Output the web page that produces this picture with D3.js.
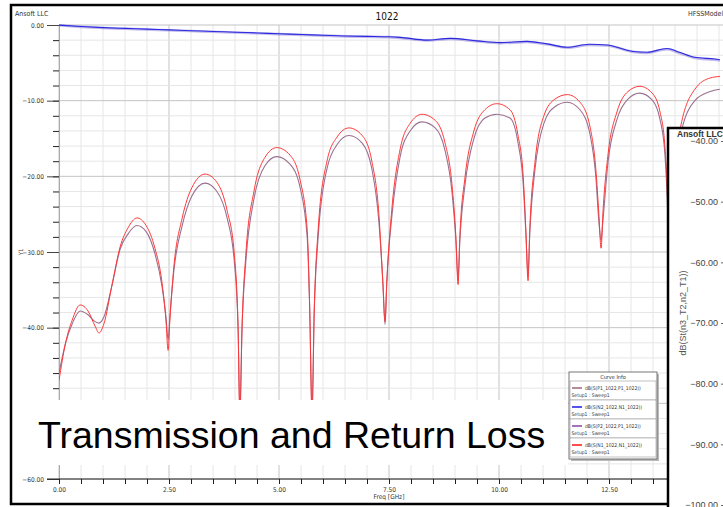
<!DOCTYPE html>
<html>
<head>
<meta charset="utf-8">
<script src="https://cdn.jsdelivr.net/npm/d3@7"></script>
<style>
  body { margin: 0; background: #fff; }
  svg { display: block; font-family: "Liberation Sans", Arial, sans-serif; }
</style>
</head>
<body>
<div id="chart"></div>
<script>
// Return loss curves, freq in GHz
const rlFreq = [0, 0.15, 0.3, 0.48, 0.66, 0.82, 0.91, 1.02, 1.2, 1.39, 1.57, 1.77, 1.98, 2.18, 2.34, 2.43, 2.48, 2.52, 2.61, 2.8,
  3.02, 3.32, 3.59, 3.82, 3.98, 4.07, 4.11, 4.16, 4.25, 4.43, 4.68, 4.95, 5.25, 5.48, 5.64, 5.7, 5.75, 5.8, 5.89, 6.09,
  6.32, 6.59, 6.89, 7.11, 7.27, 7.36, 7.41, 7.45, 7.57, 7.75, 7.98, 8.25, 8.55, 8.77, 8.93, 9.02, 9.07, 9.11, 9.23, 9.43,
  9.68, 9.95, 10.25, 10.43, 10.55, 10.61, 10.66, 10.7, 10.82, 11.02, 11.27, 11.55, 11.84, 12.07, 12.2, 12.27, 12.32, 12.36, 12.48, 12.68,
  12.93, 13.2, 13.48, 13.66, 13.77, 13.84, 13.89, 13.95, 14.11, 14.45, 14.8, 15.02];
const s11N = [-47, -42, -39, -37, -37.8, -39.8, -40.7, -39.5, -34.5, -29.3, -26.8, -25.5, -26.5, -29.5, -34, -39, -43, -39, -32, -25.5,
  -21.5, -19.7, -20.8, -24.5, -30, -40, -52, -40, -30, -22, -17.5, -16.2, -17.2, -20.5, -27, -38, -52, -38, -27, -18,
  -14.8, -13.6, -14.6, -18, -25, -34, -39.2, -34, -24, -16.5, -13, -11.8, -12.6, -15.5, -21, -28, -34.3, -28, -20, -14,
  -11.2, -10.4, -11.2, -14.5, -20, -27, -33.8, -27, -18, -12, -9.8, -9.2, -10.2, -13.5, -19, -25, -29.5, -25, -17, -11.5,
  -8.8, -8.1, -9.0, -11.5, -16, -25, -40, -25, -14, -8.5, -7, -6.8];
const s11P = [-46, -42, -39.5, -37.8, -38.3, -39.2, -39.4, -38.6, -34.5, -29.6, -27.6, -26.5, -27.3, -30.2, -34.5, -38.5, -41.6, -38.5, -32.5, -26.5,
  -22.6, -20.9, -22, -25.5, -31, -40, -51, -40, -31, -23, -18.6, -17.4, -18.4, -21.5, -28, -38, -51, -38, -28, -19,
  -15.8, -14.6, -15.6, -19, -26, -34, -39.6, -34, -25, -17.5, -14, -12.8, -13.6, -16.5, -22, -28.5, -33.5, -28.5, -21, -15,
  -12.3, -11.8, -12.3, -15.5, -21, -27.5, -33, -27.5, -19, -13, -10.8, -10.2, -11.2, -14.5, -20, -26, -28.5, -26, -18, -12.5,
  -9.8, -9.0, -9.9, -12.5, -17, -26, -40, -26, -15, -10, -8.8, -8.5];

// Transmission curves
const tFreq = [0, 0.5, 1, 1.5, 2, 2.5, 3, 3.5, 4, 4.5, 5, 5.5, 6, 6.5, 7, 7.5, 7.75, 8.36, 8.89, 9.5,
  10.02, 10.64, 11.09, 11.55, 12.05, 12.45, 13.05, 13.36, 13.82, 14.1, 14.45, 14.9, 15.02];
const s21N = [-0.02, -0.2, -0.35, -0.45, -0.55, -0.65, -0.75, -0.85, -0.95, -1.05, -1.15, -1.25, -1.35, -1.45, -1.5, -1.55, -1.63, -2.0, -1.77, -2.1,
  -2.33, -2.16, -2.5, -2.95, -2.55, -2.64, -3.5, -3.6, -3.1, -3.6, -4.27, -4.5, -4.6];
const s21P = [-0.05, -0.25, -0.4, -0.5, -0.6, -0.7, -0.8, -0.9, -1.0, -1.1, -1.2, -1.3, -1.4, -1.5, -1.55, -1.6, -1.7, -2.05, -1.85, -2.15,
  -2.4, -2.25, -2.55, -3.0, -2.65, -2.7, -3.55, -3.7, -3.2, -3.7, -4.35, -4.6, -4.7];

const xMajorTicks = [0, 2.5, 5, 7.5, 10, 12.5];
const yMajorTicks = [0, -10, -20, -30, -40, -50, -60];
const y2Ticks = [-40, -50, -60, -70, -80, -90, -100];

const legendItems = [
  {name: "dB(S(P1_1022,P1_1022))", color: "#a07088"},
  {name: "dB(S(N2_1022,N1_1022))", color: "#2a2ae8"},
  {name: "dB(S(P2_1022,P1_1022))", color: "#9050a8"},
  {name: "dB(S(N1_1022,N1_1022))", color: "#ff2020"}
];

const W = 723, H = 507;
const svg = d3.select("#chart").append("svg").attr("width", W).attr("height", H);

const x = d3.scaleLinear().domain([0, 15]).range([59, 719]);
const y = d3.scaleLinear().domain([0, -60]).range([25, 479]);

// grid
const grid = svg.append("g");
grid.selectAll(".vg").data(d3.range(0, 15.01, 0.5)).enter().append("line")
  .attr("x1", d => x(d)).attr("x2", d => x(d))
  .attr("y1", 25).attr("y2", 479)
  .attr("stroke", d => xMajorTicks.includes(d) ? "#c4c4c4" : "#e6e6e6").attr("stroke-width", 1);
grid.selectAll(".hg").data(d3.range(0, -60.01, -2)).enter().append("line")
  .attr("x1", 59).attr("x2", 723)
  .attr("y1", d => y(d)).attr("y2", d => y(d))
  .attr("stroke", d => d % 10 === 0 ? "#c4c4c4" : "#e6e6e6").attr("stroke-width", 1);

// left axis
const yAxisMinor = d3.axisLeft(y).tickValues(d3.range(0, -60.01, -2)).tickSize(6).tickFormat("");
svg.append("g").attr("transform", "translate(59,0)").call(yAxisMinor)
  .call(g => g.select(".domain").attr("stroke", "#aaa"))
  .call(g => g.selectAll(".tick line").attr("stroke", "#222"));
const yAxis = d3.axisLeft(y).tickValues(yMajorTicks).tickSize(12).tickPadding(3).tickFormat(d3.format(".2f"));
svg.append("g").attr("transform", "translate(59,0)").call(yAxis)
  .call(g => g.select(".domain").remove())
  .call(g => g.selectAll(".tick line").attr("stroke", "#444"))
  .call(g => g.selectAll("text").attr("font-size", 6.5).attr("fill", "#333").attr("font-family", "DejaVu Sans Condensed, sans-serif"));

// bottom axis
const xAxis = d3.axisBottom(x).tickValues(d3.range(0, 15.01, 0.5)).tickSize(5).tickFormat("");
svg.append("g").attr("transform", "translate(0,479)").call(xAxis)
  .call(g => g.select(".domain").attr("stroke", "#222").attr("d", "M47,0H723"))
  .call(g => g.selectAll(".tick line").attr("stroke", "#222"));
const xAxisLab = d3.axisBottom(x).tickValues(xMajorTicks).tickSize(0).tickPadding(8).tickFormat(d3.format(".2f"));
svg.append("g").attr("transform", "translate(0,479)").call(xAxisLab)
  .call(g => g.select(".domain").remove())
  .call(g => g.selectAll("text").attr("font-size", 6.5).attr("fill", "#333").attr("font-family", "DejaVu Sans Condensed, sans-serif"));

svg.append("text").attr("x", 389).attr("y", 499).attr("text-anchor", "middle")
  .attr("font-size", 6.5).attr("fill", "#333").attr("font-family", "DejaVu Sans Condensed, sans-serif").text("Freq [GHz]");
svg.append("text").attr("transform", "translate(23,252) rotate(-90)").attr("text-anchor", "middle")
  .attr("font-size", 6).attr("fill", "#444").attr("font-family", "DejaVu Sans Condensed, sans-serif").text("Y1");

// header
svg.append("text").attr("x", 15).attr("y", 16).attr("font-size", 7).attr("fill", "#333")
  .attr("font-family", "DejaVu Sans Condensed, sans-serif").text("Ansoft LLC");
svg.append("text").attr("x", 387).attr("y", 20).attr("text-anchor", "middle").attr("font-size", 10).attr("fill", "#111")
  .attr("font-family", "DejaVu Sans Condensed, sans-serif").text("1022");
svg.append("text").attr("x", 688).attr("y", 16).attr("font-size", 7).attr("fill", "#333")
  .attr("font-family", "DejaVu Sans Condensed, sans-serif").text("HFSSModel1");

// curves
svg.append("clipPath").attr("id", "plotClip").append("rect")
  .attr("x", 59).attr("y", 24).attr("width", 664).attr("height", 455);
const curves = svg.append("g").attr("clip-path", "url(#plotClip)");
const line = (fs, vs) => d3.line().x((d, i) => x(fs[i])).y(d => y(d)).curve(d3.curveMonotoneX)(vs);

curves.append("path").attr("d", line(tFreq, s21P)).attr("fill", "none")
  .attr("stroke", "#9080d8").attr("stroke-width", 2.6).attr("stroke-opacity", 0.55);
curves.append("path").attr("d", line(tFreq, s21N)).attr("fill", "none")
  .attr("stroke", "#2a2ae0").attr("stroke-width", 1.1);
curves.append("path").attr("d", line(rlFreq, s11P)).attr("fill", "none")
  .attr("stroke", "#9a7090").attr("stroke-width", 1.1);
curves.append("path").attr("d", line(rlFreq, s11N)).attr("fill", "none")
  .attr("stroke", "#ff3838").attr("stroke-width", 1);

// big caption with white backing
svg.append("rect").attr("x", 14).attr("y", 400).attr("width", 554).attr("height", 65).attr("fill", "#fff");
svg.append("text").attr("x", 38).attr("y", 448).attr("font-size", 37.5).attr("fill", "#000")
  .attr("font-family", "Liberation Sans, Arial, sans-serif").text("Transmission and Return Loss");

// legend
const lg = svg.append("g").attr("transform", "translate(569,372)");
lg.append("rect").attr("x", 2).attr("y", 2).attr("width", 88).attr("height", 87).attr("fill", "#bbb");
lg.append("rect").attr("width", 88).attr("height", 87).attr("fill", "#fff").attr("stroke", "#555").attr("stroke-width", 0.8);
lg.append("text").attr("x", 44).attr("y", 6.5).attr("text-anchor", "middle").attr("font-size", 5.5).attr("fill", "#333")
  .attr("font-family", "DejaVu Sans Condensed, sans-serif").text("Curve Info");
const item = lg.selectAll(".it").data(legendItems).enter().append("g")
  .attr("transform", (d, i) => `translate(0,${9 + i * 19})`);
item.append("rect").attr("x", 1).attr("y", 0).attr("width", 86).attr("height", 19)
  .attr("fill", "#fff").attr("stroke", "#999").attr("stroke-width", 0.6);
item.append("line").attr("x1", 3).attr("x2", 13).attr("y1", 7).attr("y2", 7)
  .attr("stroke", d => d.color).attr("stroke-width", 1.6);
item.append("text").attr("x", 16).attr("y", 9).attr("font-size", 5).attr("fill", "#333")
  .attr("font-family", "DejaVu Sans Condensed, sans-serif").text(d => d.name);
item.append("text").attr("x", 2.5).attr("y", 16).attr("font-size", 5).attr("fill", "#333")
  .attr("font-family", "DejaVu Sans Condensed, sans-serif").text("Setup1 : Sweep1");

// main window frame
svg.append("rect").attr("x", 11).attr("y", 5).attr("width", 730).attr("height", 499)
  .attr("fill", "none").attr("stroke", "#000").attr("stroke-width", 2.5);

// second plot window peeking in from the right
const y2 = d3.scaleLinear().domain([-40, -100]).range([141, 505]);
const p2 = svg.append("g");
p2.append("rect").attr("x", 668).attr("y", 128).attr("width", 80).attr("height", 400)
  .attr("fill", "#fff").attr("stroke", "#000").attr("stroke-width", 2.5);
p2.append("text").attr("x", 677).attr("y", 137).attr("font-size", 8.5).attr("font-weight", "bold").attr("fill", "#333")
  .text("Ansoft LLC");
const y2Axis = d3.axisLeft(y2).tickValues(y2Ticks).tickSize(3).tickPadding(3).tickFormat(d3.format(".2f"));
p2.append("g").attr("transform", "translate(724,0)").call(y2Axis)
  .call(g => g.select(".domain").remove())
  .call(g => g.selectAll(".tick line").attr("stroke", "#666"))
  .call(g => g.selectAll("text").attr("font-size", 9).attr("fill", "#444").attr("font-family", "Liberation Sans, Arial, sans-serif"));
p2.append("text").attr("transform", "translate(686,313) rotate(-90)").attr("text-anchor", "middle")
  .attr("font-size", 9).attr("fill", "#555").text("dB(St(n3_T2,n2_T1))");
</script>
</body>
</html>
